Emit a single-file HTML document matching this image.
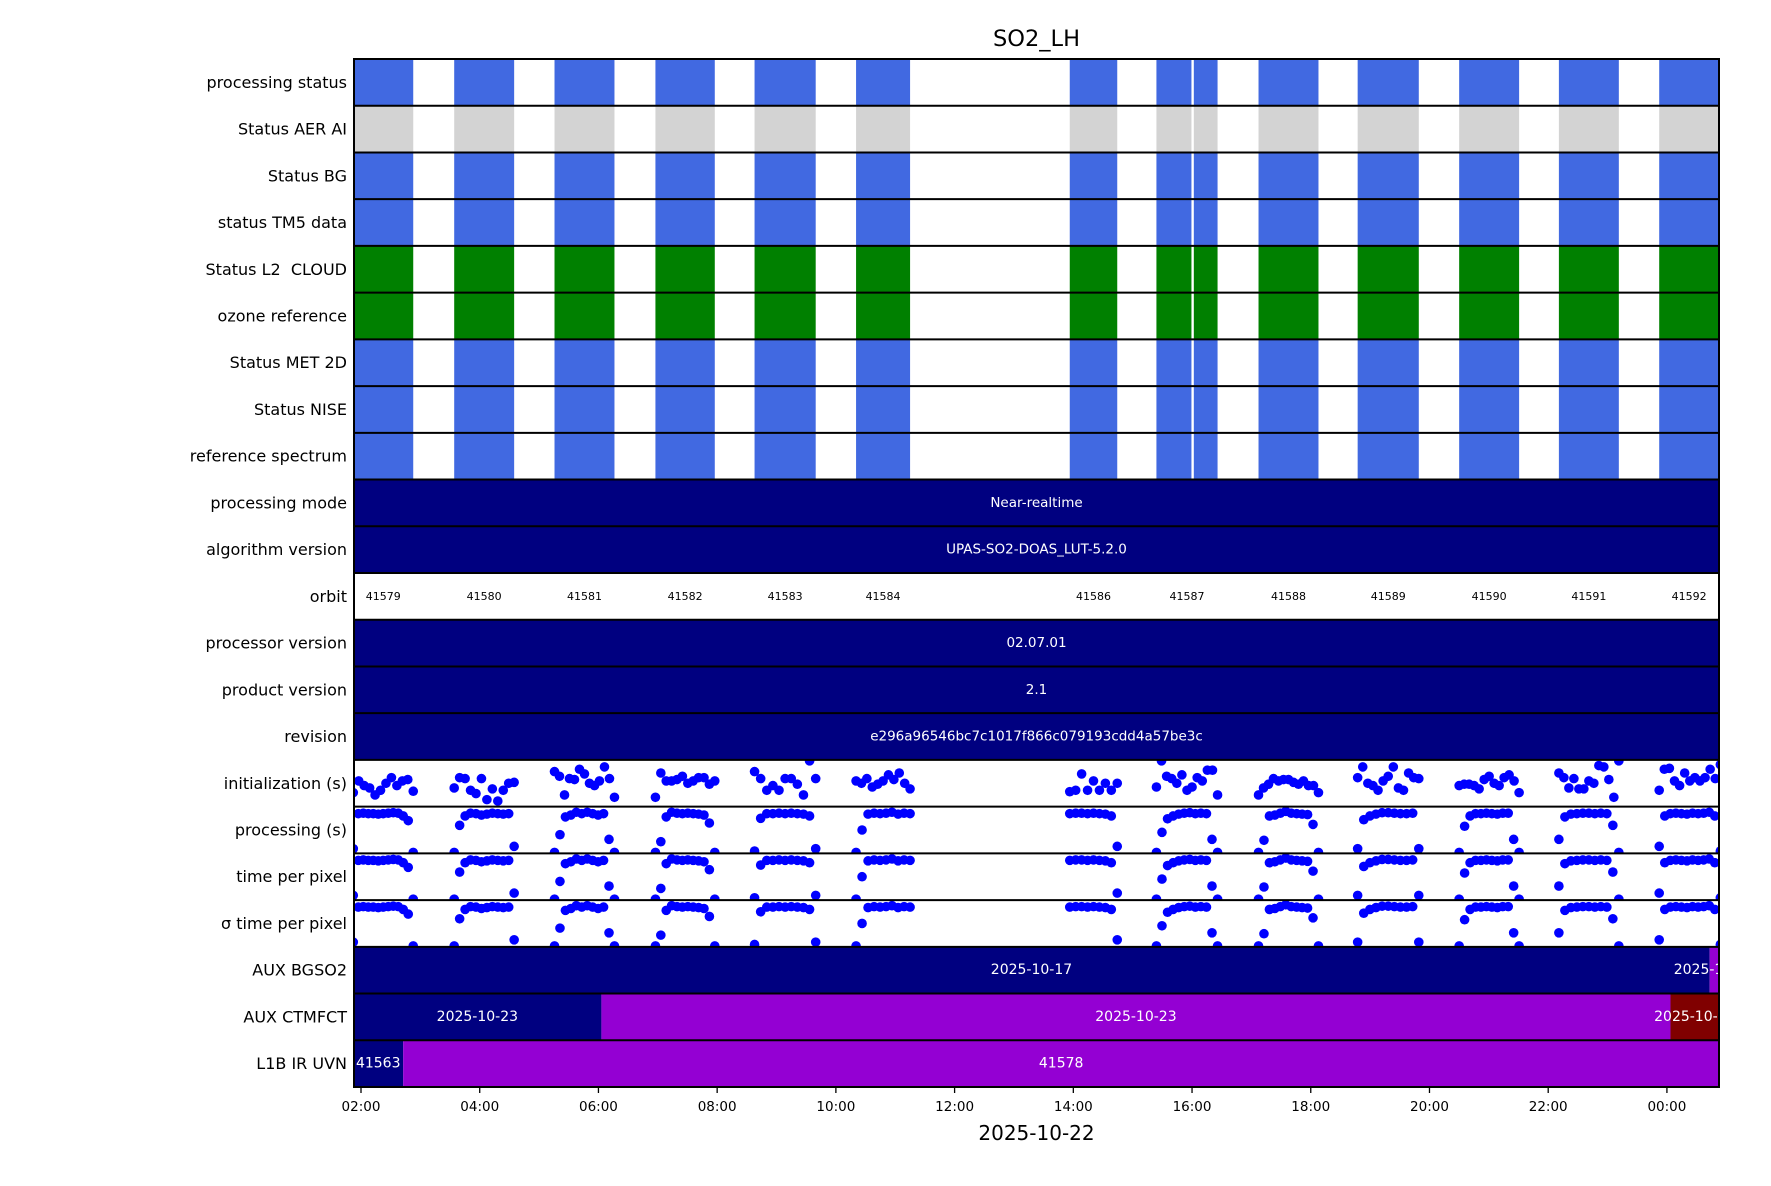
<!DOCTYPE html>
<html><head><meta charset="utf-8"><style>
body{margin:0;background:#fff;}
svg text{font-family:"DejaVu Sans","Liberation Sans",sans-serif;white-space:pre;}
</style></head><body>
<svg id="c" width="1771" height="1181" xmlns="http://www.w3.org/2000/svg"></svg>
<script>
const rowLabels=["processing status","Status AER AI","Status BG","status TM5 data","Status L2  CLOUD","ozone reference","Status MET 2D","Status NISE","reference spectrum","processing mode","algorithm version","orbit","processor version","product version","revision","initialization (s)","processing (s)","time per pixel","σ time per pixel","AUX BGSO2","AUX CTMFCT","L1B IR UVN"];
const orbitIds=[41579,41580,41581,41582,41583,41584,41586,41587,41588,41589,41590,41591,41592];
const orbitStart=[1.87,3.57,5.26,6.96,8.63,10.34,13.94,15.40,17.12,18.79,20.50,22.18,23.87];
const orbitEnd=[2.88,4.58,6.27,7.96,9.66,11.25,14.74,16.43,18.13,19.82,21.51,23.19,24.9];
const gapStart=[15.99];const gapEnd=[16.03];
const statusColors=["#4169e1","#d3d3d3","#4169e1","#4169e1","#008000","#008000","#4169e1","#4169e1","#4169e1"];
const fullBars=[[9,"Near-realtime"],[10,"UPAS-SO2-DOAS_LUT-5.2.0"],[12,"02.07.01"],[13,"2.1"],[14,"e296a96546bc7c1017f866c079193cdd4a57be3c"]];
const bgso2Edges=[1.87,24.72,24.9];const bgso2Colors=["#000080","#9400d3"];const bgso2Labels=["2025-10-17","2025-10-17"];
const ctmEdges=[1.87,6.05,24.06,24.9];const ctmColors=["#000080","#9400d3","#800000"];const ctmLabels=["2025-10-23","2025-10-23","2025-10-24"];
const l1bEdges=[1.87,2.71,24.9];const l1bColors=["#000080","#9400d3"];const l1bLabels=["41563","41578"];
const initVals=[
[0.3,0.55,0.45,0.4,0.25,0.35,0.5,0.62,0.45,0.55,0.58,0.33],
[0.4,0.62,0.6,0.35,0.28,0.6,0.15,0.38,0.12,0.35,0.5,0.52],
[0.75,0.65,0.25,0.6,0.58,0.8,0.7,0.5,0.45,0.55,0.85,0.6,0.2],
[0.2,0.72,0.55,0.55,0.58,0.65,0.5,0.55,0.62,0.62,0.48,0.55],
[0.75,0.6,0.35,0.45,0.35,0.6,0.6,0.48,0.25,0.98,0.6],
[0.55,0.5,0.6,0.42,0.48,0.55,0.68,0.58,0.72,0.5,0.38],
[0.32,0.35,0.7,0.35,0.55,0.35,0.5,0.35,0.5],
[0.42,0.98,0.65,0.6,0.5,0.68,0.35,0.42,0.62,0.55,0.78,0.78,0.25],
[0.25,0.4,0.48,0.6,0.55,0.58,0.58,0.52,0.48,0.55,0.45,0.45,0.3],
[0.62,0.85,0.5,0.45,0.35,0.55,0.65,0.85,0.4,0.35,0.72,0.62,0.6],
[0.45,0.48,0.48,0.45,0.38,0.58,0.65,0.5,0.45,0.62,0.68,0.55,0.3],
[0.72,0.62,0.4,0.6,0.38,0.38,0.55,0.5,0.88,0.85,0.58,0.2,0.98],
[0.35,0.8,0.82,0.55,0.45,0.72,0.55,0.62,0.55,0.62,0.8,0.6,0.9]];
const procVals=[
[0.1,0.85,0.86,0.85,0.85,0.84,0.85,0.86,0.87,0.86,0.8,0.7,0.02],
[0.02,0.6,0.8,0.86,0.85,0.82,0.84,0.86,0.85,0.84,0.85,0.15],
[0.02,0.4,0.78,0.82,0.88,0.85,0.88,0.85,0.82,0.85,0.3,0.02],
[0.02,0.25,0.78,0.88,0.86,0.85,0.86,0.85,0.84,0.82,0.65,0.02],
[0.05,0.75,0.85,0.85,0.86,0.85,0.86,0.85,0.84,0.8,0.1],
[0.02,0.5,0.84,0.86,0.85,0.86,0.88,0.84,0.86,0.85],
[0.85,0.86,0.86,0.85,0.86,0.85,0.84,0.8,0.15],
[0.02,0.45,0.74,0.8,0.84,0.86,0.87,0.85,0.86,0.85,0.3,0.02],
[0.02,0.28,0.8,0.82,0.86,0.9,0.86,0.85,0.84,0.83,0.62,0.02],
[0.1,0.72,0.8,0.84,0.87,0.87,0.86,0.85,0.85,0.86,0.1],
[0.02,0.58,0.8,0.85,0.85,0.86,0.85,0.84,0.86,0.86,0.3,0.02],
[0.3,0.78,0.84,0.85,0.86,0.86,0.85,0.86,0.85,0.6,0.02],
[0.15,0.8,0.85,0.86,0.85,0.84,0.86,0.85,0.86,0.88,0.8,0.05]];
const tppVals=procVals.map(a=>a.slice());
const sigVals=procVals.map(a=>a.slice());

const svg=document.getElementById('c');
const NS="http://www.w3.org/2000/svg";
const L=354,R=1719,T=59,B=1087,RH=(B-T)/22;
const x=h=>361+(h-2)*59.36;
const rowY=i=>T+i*RH;
function mk(tag,attrs,parent){const e=document.createElementNS(NS,tag);for(const k in attrs)e.setAttribute(k,attrs[k]);(parent||svg).appendChild(e);return e;}
const defs=mk('defs',{});const cp=mk('clipPath',{id:'pc'},defs);mk('rect',{x:L,y:T,width:R-L,height:B-T},cp);
const plot=mk('g',{'clip-path':'url(#pc)'});


for(let r=0;r<9;r++){
 for(let o=0;o<orbitStart.length;o++){
  let segs=[[orbitStart[o],orbitEnd[o]]];
  for(let g=0;g<gapStart.length;g++){if(gapStart[g]>orbitStart[o]&&gapEnd[g]<orbitEnd[o]){segs=[[orbitStart[o],gapStart[g]],[gapEnd[g],orbitEnd[o]]];}}
  for(const s of segs){
   const rc=mk('rect',{x:x(s[0]),y:rowY(r),width:x(s[1])-x(s[0]),height:RH,fill:statusColors[r]},plot);
   
   
  }
 }
}
function textAt(tx,ty,str,size,fill,anchor,parent){const t=mk('text',{x:tx,y:ty,'font-size':size,fill:fill,'text-anchor':anchor||'middle','dominant-baseline':'central'},parent);t.textContent=str;return t;}
for(const fb of fullBars){
 const rc=mk('rect',{x:L,y:rowY(fb[0]),width:R-L,height:RH,fill:'#000080'},plot);
 
 
 const t=textAt((L+R)/2,rowY(fb[0])+RH/2,fb[1],13.5,'#fff');
 
 
}
for(let o=0;o<orbitIds.length;o++){
 const t=textAt(x((orbitStart[o]+Math.min(orbitEnd[o],24.88))/2),rowY(11)+RH/2,String(orbitIds[o]),11,'#000');
 
 
}
function segRow(r,edges,cols,labels){
 for(let i=0;i<cols.length;i++){
  const rc=mk('rect',{x:x(edges[i]),y:rowY(r),width:x(edges[i+1])-x(edges[i]),height:RH,fill:cols[i]},plot);
  
  
 }
 for(let i=0;i<cols.length;i++){
  const t=textAt((x(edges[i])+x(Math.min(edges[i+1],24.88)))/2,rowY(r)+RH/2,labels[i],14,'#fff');
  
  
 }
}
segRow(19,bgso2Edges,bgso2Colors,bgso2Labels);
segRow(20,ctmEdges,ctmColors,ctmLabels);
segRow(21,l1bEdges,l1bColors,l1bLabels);
function scatterRow(r,vals){
 const cpr=mk('clipPath',{id:'rc'+r},defs);mk('rect',{x:L,y:rowY(r),width:R-L,height:RH},cpr);
 const g=mk('g',{'clip-path':'url(#rc'+r+')'});
 
 
 for(let o=0;o<vals.length;o++){
  const n=vals[o].length,step=(orbitEnd[o]-orbitStart[o])/(n-1);
  for(let i=0;i<n;i++){
   const c=mk('circle',{cx:x(orbitStart[o]+i*step),cy:rowY(r)+RH-vals[o][i]*RH,r:4.8,fill:'#0000ff'},g);
   
   
  }
 }
}
scatterRow(15,initVals);scatterRow(16,procVals);scatterRow(17,tppVals);scatterRow(18,sigVals);
for(let r=1;r<22;r++){const ln=mk('line',{x1:L,x2:R,y1:rowY(r),y2:rowY(r),stroke:'#000','stroke-width':2});}
const fr=mk('rect',{x:L,y:T,width:R-L,height:B-T,fill:'none',stroke:'#000','stroke-width':2});


for(let r=0;r<22;r++){const t=textAt(347,rowY(r)+RH/2,rowLabels[r],16,'#000','end');}
const tickHours=[2,4,6,8,10,12,14,16,18,20,22,24];
const tickLabels=["02:00","04:00","06:00","08:00","10:00","12:00","14:00","16:00","18:00","20:00","22:00","00:00"];
for(let i=0;i<tickHours.length;i++){
 const ln=mk('line',{x1:x(tickHours[i]),x2:x(tickHours[i]),y1:B,y2:B+6,stroke:'#000','stroke-width':1.3});
 
 
 const t=textAt(x(tickHours[i]),B+20,tickLabels[i],13.5,'#000');
 
 
}
const xl=textAt((L+R)/2,1133,"2025-10-22",20,'#000');


const ti=textAt((L+R)/2,39,"SO2_LH",22.5,'#000');


</script>
</body></html>
